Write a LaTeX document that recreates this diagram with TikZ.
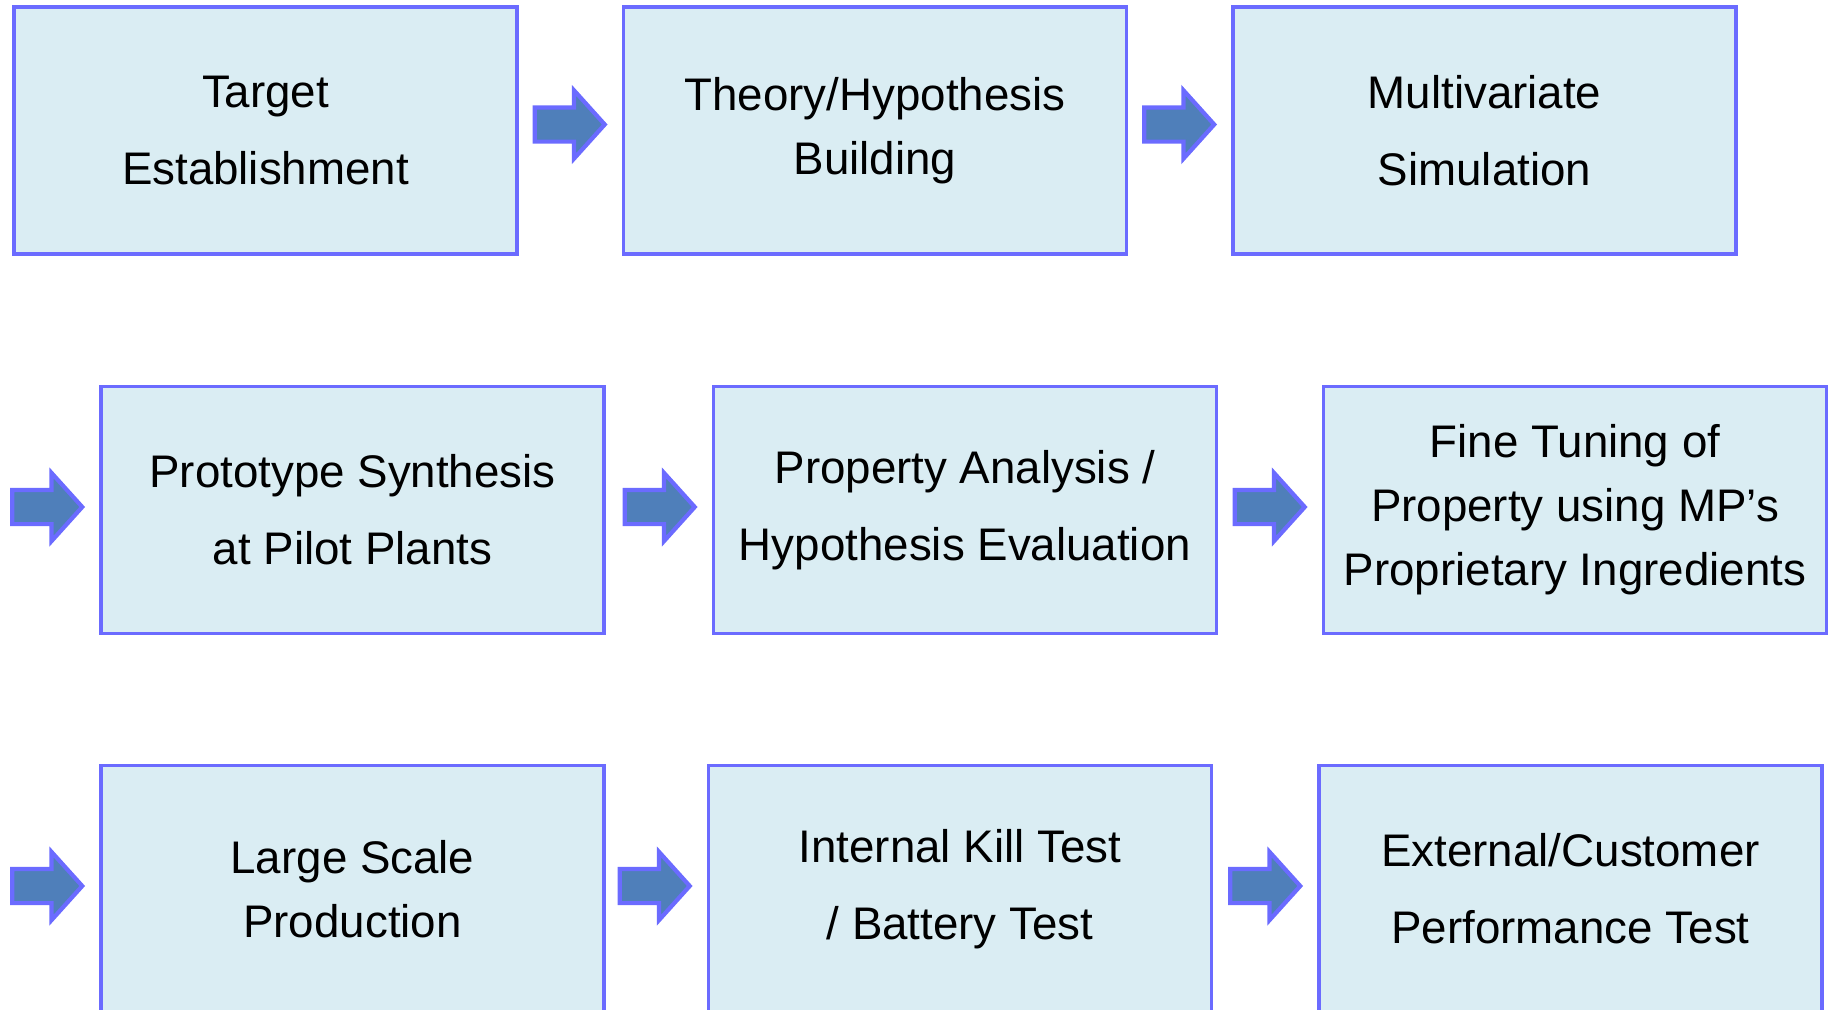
\documentclass[tikz,border=0pt]{standalone}
\usepackage{fontspec}
\setmainfont{Liberation Sans}
\usetikzlibrary{shapes.arrows,positioning}

\definecolor{boxfill}{HTML}{DAEDF3}
\definecolor{boxline}{HTML}{6B6BFF}
\definecolor{arrowfill}{HTML}{4F7FBA}

\tikzset{
  stage/.style={draw=boxline, fill=boxfill, line width=1.1pt,
    minimum width=5.03cm, minimum height=2.47cm, inner sep=0pt,
    align=center, font=\fontsize{13}{18.2}\selectfont},
  flow/.style={single arrow, draw=boxline, fill=arrowfill, line width=1.2pt,
    minimum height=0.70cm, inner xsep=0pt, inner ysep=0.15cm,
    single arrow head extend=0.17cm, single arrow tip angle=96,
    yshift=0.03cm}
}

\begin{document}
\begin{tikzpicture}

\useasboundingbox (0,0) rectangle (18.29,-10.10);

% first row
\node[stage] (target) at (2.655,-1.305) {Target\\[3.7pt]Establishment};
\node[stage] (theory) at (8.75,-1.305) {Theory/Hypothesis\\Building};
\node[stage] (simul) at (14.845,-1.305) {Multivariate\\[3.7pt]Simulation};

% second row
\node[stage] (proto) at (3.525,-5.10) {Prototype Synthesis\\[3.7pt]at Pilot Plants};
\node[stage] (analysis) at (9.65,-5.10) {Property Analysis /\\[3.7pt]Hypothesis Evaluation};
\node[stage] (tuning) at (15.75,-5.10) {Fine Tuning of\\Property using MP’s\\Proprietary Ingredients};

% third row
\node[stage] (scaleup) at (3.525,-8.89) {Large Scale\\Production};
\node[stage] (killtest) at (9.60,-8.89) {Internal Kill Test\\[3.7pt]/ Battery Test};
\node[stage] (custtest) at (15.705,-8.89) {External/Customer\\[3.7pt]Performance Test};

% block arrows, each pointing into the next stage
\node[flow, left=0.14cm of theory, yshift=0.03cm] (a1) {};
\node[flow, left=0.14cm of simul, yshift=0.03cm] (a2) {};

\node[flow, left=0.14cm of proto] (a3) {};
\node[flow, left=0.14cm of analysis] (a4) {};
\node[flow, left=0.14cm of tuning] (a5) {};

\node[flow, left=0.14cm of scaleup] (a6) {};
\node[flow, left=0.14cm of killtest] (a7) {};
\node[flow, left=0.14cm of custtest] (a8) {};

\end{tikzpicture}
\end{document}
